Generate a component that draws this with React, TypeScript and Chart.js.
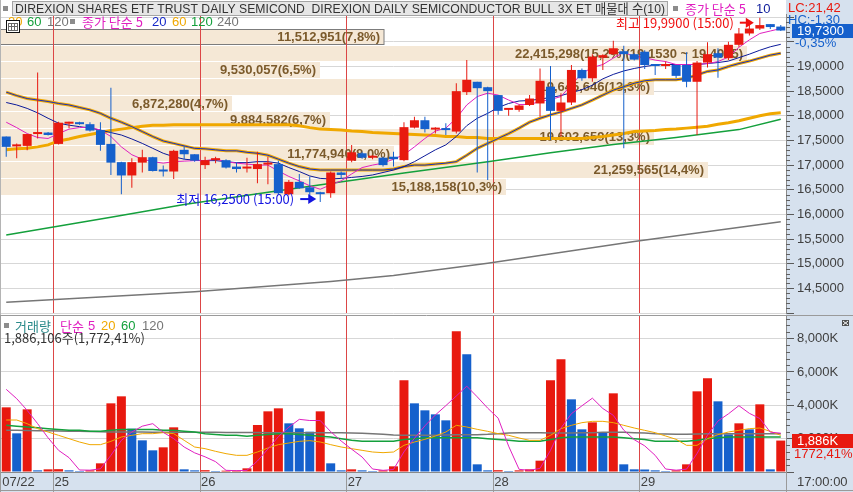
import React, { useEffect, useRef } from "react";
import { Chart, registerables } from "chart.js";

Chart.register(...registerables);

// ---------------- data ----------------
const days = ["07/22", "07/25", "07/26", "07/27", "07/28", "07/29"];
const dayTickLabels = ["07/22", "25", "26", "27", "28", "29"];
const barsPerDay = [5, 14, 14, 14, 14, 14];

const opens = [
  17.58, 17.38, 17.39, 17.63, 17.66, 17.43, 17.84, 17.87, 17.83, 17.71,
  17.43, 17.06, 16.79, 17.05, 17.16, 16.90, 16.87, 17.31, 17.22, 17.00,
  17.10, 17.10, 16.97, 16.93, 16.92, 17.01, 17.02, 16.41, 16.66, 16.55,
  16.45, 16.43, 16.85, 17.09, 17.24, 17.15, 17.15, 17.17, 17.10, 17.76,
  17.91, 17.72, 17.73, 17.68, 18.48, 18.69, 18.58, 18.42, 18.12, 18.12,
  18.22, 18.25, 18.59, 18.10, 18.27, 18.93, 18.76, 19.18, 19.25, 19.31,
  19.25, 19.30, 19.03, 19.01, 19.03, 19.03, 18.69, 19.08, 19.27, 19.17,
  19.44, 19.67, 19.77, 19.86, 19.81,
];
const highs = [
  17.58, 17.44, 17.63, 18.88, 17.67, 17.88, 17.88, 17.88, 17.87, 17.87,
  18.57, 17.07, 17.14, 17.31, 17.17, 16.99, 17.31, 17.39, 17.22, 17.17,
  17.17, 17.12, 17.06, 17.15, 17.27, 17.17, 17.09, 16.70, 16.82, 16.77,
  16.46, 16.87, 16.87, 17.41, 17.27, 17.20, 17.17, 17.27, 17.87, 17.98,
  17.98, 17.77, 17.85, 18.66, 19.13, 18.69, 18.59, 18.42, 18.15, 18.23,
  18.42, 18.96, 19.01, 18.46, 19.03, 18.96, 19.25, 19.25, 19.52, 19.42,
  19.27, 19.33, 19.04, 19.10, 19.03, 19.29, 19.11, 19.49, 19.37, 19.50,
  19.78, 19.84, 19.99, 19.86, 19.84,
];
const lows = [
  17.17, 17.14, 17.30, 17.54, 17.60, 17.42, 17.75, 17.82, 17.68, 17.29,
  16.80, 16.41, 16.54, 16.85, 16.87, 16.77, 16.72, 17.12, 17.07, 16.92,
  17.04, 16.93, 16.85, 16.85, 16.63, 16.61, 16.41, 16.39, 16.52, 16.39,
  16.25, 16.34, 16.72, 17.06, 17.13, 17.12, 16.97, 16.97, 17.08, 17.74,
  17.66, 17.64, 17.61, 17.64, 18.42, 16.85, 16.70, 18.02, 18.00, 18.08,
  18.20, 17.98, 17.51, 17.58, 18.22, 18.71, 18.69, 18.93, 19.23, 17.34,
  19.12, 18.95, 18.83, 18.95, 18.76, 18.58, 17.61, 18.98, 18.77, 19.13,
  19.40, 19.63, 19.74, 19.76, 19.72,
];
const closes = [
  17.37, 17.40, 17.63, 17.64, 17.61, 17.86, 17.85, 17.83, 17.70, 17.41,
  17.05, 16.79, 17.06, 17.16, 16.88, 16.87, 17.29, 17.22, 17.09, 17.10,
  17.11, 16.95, 16.92, 16.95, 17.02, 17.02, 16.43, 16.66, 16.53, 16.45,
  16.41, 16.85, 16.80, 17.26, 17.15, 17.17, 17.00, 17.12, 17.77, 17.91,
  17.73, 17.73, 17.71, 18.50, 18.73, 18.56, 18.50, 18.10, 18.14, 18.21,
  18.35, 18.71, 18.10, 18.27, 18.93, 18.76, 19.20, 19.23, 19.37, 19.25,
  19.14, 19.03, 19.01, 19.03, 18.81, 18.69, 19.08, 19.25, 19.18, 19.44,
  19.67, 19.77, 19.84, 19.80, 19.73,
];

// price moving averages (종가 단순)
const ma5 = [
  17.87, 17.76, 17.64, 17.56, 17.54, 17.64, 17.73, 17.76, 17.77, 17.71,
  17.58, 17.37, 17.21, 17.12, 17.07, 17.04, 17.07, 17.08, 17.09, 17.09,
  17.12, 17.07, 17.04, 17.02, 17.00, 17.00, 16.88, 16.77, 16.68, 16.58,
  16.51, 16.60, 16.68, 16.82, 16.95, 17.00, 17.04, 17.12, 17.21, 17.37,
  17.54, 17.69, 17.75, 17.95, 18.22, 18.39, 18.46, 18.42, 18.32, 18.23,
  18.23, 18.29, 18.33, 18.39, 18.63, 18.86, 18.98, 19.04, 19.17, 19.29,
  19.20, 19.18, 19.13, 19.10, 19.04, 19.04, 19.04, 19.06, 19.10, 19.19,
  19.39, 19.54, 19.67, 19.72, 19.77,
];
const ma10 = [
  18.27, 18.22, 18.15, 18.06, 17.95, 17.85, 17.81, 17.78, 17.75, 17.71,
  17.66, 17.61, 17.53, 17.44, 17.34, 17.24, 17.17, 17.12, 17.10, 17.09,
  17.09, 17.07, 17.05, 17.05, 17.07, 17.07, 17.04, 16.95, 16.87, 16.78,
  16.73, 16.72, 16.73, 16.75, 16.77, 16.80, 16.85, 16.90, 16.97, 17.07,
  17.19, 17.31, 17.41, 17.58, 17.80, 17.95, 18.05, 18.17, 18.25, 18.30,
  18.31, 18.34, 18.37, 18.41, 18.47, 18.53, 18.62, 18.75, 18.84, 18.91,
  18.96, 19.00, 19.03, 19.04, 19.04, 19.04, 19.04, 19.06, 19.08, 19.11,
  19.18, 19.25, 19.33, 19.40, 19.45,
];
const ma20 = [
  18.48, 18.41, 18.35, 18.32, 18.29, 18.25, 18.22, 18.17, 18.12, 18.05,
  17.95, 17.87, 17.78, 17.68, 17.58, 17.49, 17.44, 17.39, 17.34, 17.33,
  17.31, 17.29, 17.29, 17.26, 17.24, 17.20, 17.12, 17.04, 16.97, 16.92,
  16.90, 16.90, 16.90, 16.90, 16.90, 16.90, 16.90, 16.92, 16.97, 17.00,
  17.00, 17.02, 17.04, 17.07, 17.20, 17.34, 17.44, 17.54, 17.64, 17.75,
  17.87, 17.95, 18.02, 18.08, 18.15, 18.22, 18.32, 18.42, 18.52, 18.59,
  18.66, 18.71, 18.73, 18.73, 18.73, 18.76, 18.83, 18.90, 18.93, 19.00,
  19.06, 19.11, 19.17, 19.23, 19.27,
];
const ma60 = [
  17.31, 17.33, 17.34, 17.37, 17.41, 17.49, 17.53, 17.58, 17.62, 17.66,
  17.70, 17.73, 17.76, 17.79, 17.81, 17.81, 17.82, 17.82, 17.82, 17.82,
  17.82, 17.82, 17.82, 17.82, 17.82, 17.82, 17.82, 17.82, 17.80, 17.76,
  17.73, 17.72, 17.71, 17.69, 17.68, 17.66, 17.65, 17.64, 17.63, 17.62,
  17.61, 17.60, 17.58, 17.58, 17.56, 17.56, 17.54, 17.54, 17.54, 17.54,
  17.54, 17.54, 17.54, 17.54, 17.54, 17.54, 17.56, 17.58, 17.61, 17.64,
  17.68, 17.69, 17.70, 17.72, 17.73, 17.75, 17.77, 17.79, 17.83, 17.86,
  17.90, 17.95, 18.00, 18.04, 18.06,
];
// slow averages read at a few bars only: [bar index, value]
const ma120Points = [
  [0, 15.58], [10, 15.94], [17, 16.2], [26, 16.48], [38, 16.84], [46, 17.07],
  [52, 17.25], [58, 17.42], [64, 17.56], [70, 17.72], [74, 17.93],
];
const ma240Points = [
  [0, 14.22], [18, 14.43], [31, 14.64], [37, 14.76], [46, 15.01], [60, 15.45], [74, 15.85],
];

// volume (thousand shares)
const volumes = [
  3880, 2320, 3760, 100, 160, 170, 100, 60, 100, 520,
  4120, 4540, 2600, 1900, 1300, 1480, 2680, 160, 100, 110,
  40, 80, 90, 220, 2820, 3640, 3820, 2920, 2620, 2420,
  3640, 520, 100, 160, 100, 40, 100, 340, 5500, 4120,
  3700, 3460, 3100, 8440, 7060, 460, 100, 110, 40, 100,
  160, 680, 5500, 6760, 4360, 2560, 2980, 2380, 4720, 460,
  160, 150, 100, 40, 100, 460, 4840, 5620, 4240, 2260,
  2920, 2560, 4060, 160, 1886,
];
const volMa5 = [
  4960, 4400, 3700, 2900, 2050, 1300, 860, 120, 110, 190,
  1000, 1900, 2400, 2750, 2900, 2380, 2000, 1500, 1150, 910,
  620, 100, 80, 100, 660, 1380, 2120, 2690, 3160, 3090,
  3090, 2420, 1860, 1370, 900, 180, 100, 150, 1210, 2020,
  2770, 3420, 3980, 4560, 5150, 4510, 3830, 3230, 1550, 160,
  100, 220, 1300, 2640, 3500, 3970, 4430, 3810, 3400, 2510,
  1940, 1570, 1000, 180, 110, 170, 1110, 2210, 3060, 3490,
  3980, 3520, 3210, 2390, 2330,
];
const volMa20 = [
  3120, 3120, 2900, 2600, 2400, 2200, 2000, 1800, 1640, 1640,
  1840, 2100, 2200, 2300, 2300, 2360, 2300, 1900, 1500, 1400,
  1240, 1100, 1000, 1000, 1200, 1440, 1640, 1740, 1840, 1880,
  1800, 1640, 1500, 1400, 1300, 1200, 1160, 1200, 1600, 1800,
  1960, 2160, 2400, 2800, 2700, 2560, 2440, 2300, 2200, 2040,
  1900, 1900, 2200, 2600, 2800, 2960, 3040, 3040, 2960, 2800,
  2640, 2500, 2360, 2160, 1960, 1600, 1600, 2000, 2240, 2400,
  2500, 2600, 2640, 2440, 2200,
];
const volMa60 = [
  2800, 2750, 2700, 2650, 2600, 2550, 2500, 2500, 2450, 2450,
  2500, 2550, 2550, 2550, 2550, 2500, 2500, 2450, 2400, 2300,
  2250, 2200, 2200, 2150, 2200, 2250, 2300, 2300, 2250, 2200,
  2150, 2100, 2000, 1900, 1850, 1850, 1850, 1850, 1950, 2000,
  2050, 2050, 2050, 2050, 2050, 2050, 2000, 1950, 1900, 1850,
  1850, 1850, 1950, 2050, 2100, 2100, 2100, 2100, 2100, 2050,
  2000, 1950, 1850, 1850, 1850, 1850, 1900, 2000, 2050, 2100,
  2100, 2100, 2100, 2100, 2100,
];
const volMa120 = [
  2500, 2500, 2490, 2480, 2470, 2460, 2450, 2440, 2430, 2420,
  2400, 2400, 2400, 2400, 2390, 2390, 2390, 2380, 2380, 2380,
  2380, 2370, 2370, 2370, 2370, 2360, 2360, 2360, 2360, 2360,
  2360, 2360, 2350, 2340, 2320, 2300, 2260, 2220, 2200, 2200,
  2200, 2210, 2220, 2230, 2240, 2240, 2260, 2300, 2340, 2360,
  2360, 2350, 2340, 2340, 2340, 2350, 2360, 2380, 2390, 2380,
  2360, 2340, 2300, 2280, 2260, 2260, 2280, 2300, 2300, 2300,
  2300, 2300, 2300, 2300, 2300,
];
const volumeTickValues = [0, 2000, 4000, 6000, 8000];

// volume-at-price (매물대) bands, top to bottom
const bandEdges = [19.76, 19.422, 19.084, 18.746, 18.408, 18.07, 17.732, 17.394, 17.056, 16.718, 16.38];
const bandVolumes = [11512951, 22415298, 9530057, 19645646, 6872280, 9884582, 19602659, 11774940, 21259565, 15188158];
const bandPercents = [7.8, 15.2, 6.5, 13.3, 4.7, 6.7, 13.3, 8.0, 14.4, 10.3];
const peakBandRange = [19.153, 19.4965];
const bandPercentScaleMax = 16;

const titleParts = ["DIREXION SHARES ETF TRUST DAILY SEMICOND", "DIREXION DAILY SEMICONDUCTOR BULL 3X ET"];
const lcValue = 21.42;
const hcValue = -1.3;
const changePct = -0.35;
const extremeTime = "15:00";
const currentVolumeShares = 1886106;
const volumeRatioPct = 1772.41;
const lastTimeLabel = "17:00:00";

// ---------------- derived tables ----------------
const categories: string[] = [];
days.forEach((d, k) => {
  for (let j = 0; j < barsPerDay[k]; j++) categories.push(`${d} #${j + 1}`);
});
const dayStarts: number[] = [];
{
  let s = 0;
  barsPerDay.forEach((n) => {
    dayStarts.push(s);
    s += n;
  });
}
const sparse = (pts: number[][]) => {
  const a: (number | null)[] = new Array(categories.length).fill(null);
  pts.forEach(([i, v]) => (a[i] = v));
  return a;
};

// ---------------- style ----------------
const RED = "#e8190f";
const BLUE = "#1560cc";
const PANEL = "#d6e1ee";
const GRID = "#d7d7d7";
const DAYLINE = "#dc4646";
const AXIS_TEXT = "#404040";
const BAND = "#f5e8d6";
const BAND_TEXT = "#7b5a2b";
const MAGENTA = "#e020c0";
const NAVY = "#0c1a9a";
const ORANGE = "#f0a800";
const CORE = "#1830c0";
const GREEN = "#14a03c";
const GRAY = "#767676";
const TEAL = "#2a8a8a";
const FAM = "'Liberation Sans', 'Noto Sans CJK KR', sans-serif";
const KFAM = "'Noto Sans CJK KR', 'Liberation Sans', sans-serif";

const fmtInt = (n: number) => Math.round(n).toLocaleString("en-US");
const fmtDec = (n: number, d: number) => n.toFixed(d).replace(".", ",");
const fmtLocDec = (n: number, d: number) =>
  n.toLocaleString("en-US", { minimumFractionDigits: d, maximumFractionDigits: d }).replace(/\.(\d+)$/, ",$1");

function txt(ctx: any, s: string, x: number, y: number, color: string, font: string, align = "left", maxW?: number) {
  ctx.font = font;
  ctx.fillStyle = color;
  ctx.textAlign = align;
  ctx.textBaseline = "middle";
  if (maxW) ctx.fillText(s, x, y, maxW);
  else ctx.fillText(s, x, y);
}

function arrow(ctx: any, tipX: number, yy: number, len: number, color: string) {
  ctx.strokeStyle = color;
  ctx.fillStyle = color;
  ctx.lineWidth = 2;
  ctx.beginPath();
  ctx.moveTo(tipX - len, yy);
  ctx.lineTo(tipX - 5, yy);
  ctx.stroke();
  ctx.beginPath();
  ctx.moveTo(tipX, yy);
  ctx.lineTo(tipX - 8, yy - 5);
  ctx.lineTo(tipX - 8, yy + 5);
  ctx.closePath();
  ctx.fill();
}

function dayLineXs(x: any) {
  return dayStarts.slice(1).map((s) => Math.round((x.getPixelForValue(s - 1) + x.getPixelForValue(s)) / 2) + 0.5);
}

const lineDs = (data: any[], color: string, width: number, order: number) => ({
  type: "line",
  data,
  borderColor: color,
  borderWidth: width,
  pointRadius: 0,
  pointHoverRadius: 0,
  fill: false,
  tension: 0,
  spanGaps: true,
  order,
});

// ---------------- price pane ----------------
function priceConfig(): any {
  const candleColors = opens.map((o, i) => (closes[i] >= o ? RED : BLUE));
  const plugin = {
    id: "pricePane",
    beforeDraw(chart: any) {
      const { ctx, chartArea: ca, width, height } = chart;
      ctx.save();
      ctx.fillStyle = "#ffffff";
      ctx.fillRect(0, 0, width, height);
      ctx.fillStyle = PANEL;
      ctx.fillRect(ca.right, 0, width - ca.right, height);
      ctx.restore();
    },
    beforeDatasetsDraw(chart: any) {
      const { ctx, chartArea: ca, scales } = chart;
      const { x, y } = scales;
      ctx.save();
      const rects: any[] = [];
      bandEdges.slice(0, -1).forEach((top, k) => {
        const yt = Math.round(y.getPixelForValue(top));
        const yb = Math.round(y.getPixelForValue(bandEdges[k + 1]));
        const xr = ca.left + (bandPercents[k] / bandPercentScaleMax) * (ca.right - ca.left);
        ctx.fillStyle = BAND;
        ctx.fillRect(0, yt, Math.round(xr), yb - yt - 1);
        rects.push({ yt, yb, xr: Math.round(xr) });
      });
      // outline the band that holds the last price
      const last = closes[closes.length - 1];
      bandEdges.slice(0, -1).forEach((top, k) => {
        if (last <= top && last > bandEdges[k + 1]) {
          const r = rects[k];
          ctx.strokeStyle = "#7c7c7c";
          ctx.lineWidth = 1;
          ctx.strokeRect(0.5, r.yt + 0.5, r.xr - 0.5, r.yb - r.yt - 2);
        }
      });
      // day separators
      ctx.strokeStyle = DAYLINE;
      ctx.lineWidth = 1;
      dayLineXs(x).forEach((px) => {
        ctx.beginPath();
        ctx.moveTo(px, ca.top);
        ctx.lineTo(px, ca.bottom);
        ctx.stroke();
      });
      // band labels
      const peak = bandVolumes.indexOf(Math.max(...bandVolumes));
      rects.forEach((r, k) => {
        let s = `${fmtInt(bandVolumes[k])}(${fmtDec(bandPercents[k], 1)}%)`;
        if (k === peak) s += `(${fmtDec(peakBandRange[0], 4)} ~ ${fmtDec(peakBandRange[1], 4)})`;
        txt(ctx, s, r.xr - 4, (r.yt + r.yb) / 2, BAND_TEXT, `bold 13px ${FAM}`, "right");
      });
      ctx.restore();
    },
    afterDraw(chart: any) {
      const { ctx, chartArea: ca, scales, width } = chart;
      const { x, y } = scales;
      ctx.save();
      // minor ticks on the price axis
      ctx.strokeStyle = "#606060";
      ctx.lineWidth = 1;
      for (let k = 141; k <= 200; k++) {
        if (k % 5 === 0) continue;
        const py = Math.round(y.getPixelForValue(k / 10)) + 0.5;
        ctx.beginPath();
        ctx.moveTo(ca.right, py);
        ctx.lineTo(ca.right + 4, py);
        ctx.stroke();
      }
      // left frame
      ctx.strokeStyle = "#b4b4b4";
      ctx.beginPath();
      ctx.moveTo(0.5, 0);
      ctx.lineTo(0.5, chart.height);
      ctx.stroke();

      // lowest / highest marks
      let iLo = 0;
      let iHi = 0;
      lows.forEach((v, i) => { if (v < lows[iLo]) iLo = i; });
      highs.forEach((v, i) => { if (v > highs[iHi]) iHi = i; });
      const loTip = x.getPixelForValue(iLo) - 4;
      const loY = y.getPixelForValue(lows[iLo]) - 3;
      arrow(ctx, loTip, loY, 16, "#1414e0");
      txt(ctx, `최저 ${fmtDec(lows[iLo], 4)} (${extremeTime})`, loTip - 22, loY, "#1414e0", `13px ${KFAM}`, "right");
      const hiTip = x.getPixelForValue(iHi) - 6;
      const hiY = y.getPixelForValue(highs[iHi]) + 5;
      arrow(ctx, hiTip, hiY, 14, "#f01010");
      txt(ctx, `최고 ${fmtDec(highs[iHi], 4)} (${extremeTime})`, hiTip - 20, hiY, "#f01010", `13px ${KFAM}`, "right");

      // title bar
      ctx.fillStyle = "#e6e6e6";
      ctx.fillRect(12, 1, 656, 15);
      ctx.strokeStyle = "#a4a4a4";
      ctx.lineWidth = 1;
      ctx.strokeRect(12.5, 1.5, 655, 14);
      ctx.fillStyle = "#8c8c8c";
      ctx.fillRect(3, 6, 5, 5);
      txt(ctx, `${titleParts[0]}  ${titleParts[1]} 매물대 수(${bandVolumes.length})`, 15, 9, "#333333", `13px ${FAM}`, "left", 650);
      ctx.fillStyle = "#8c8c8c";
      ctx.fillRect(673, 6, 5, 5);
      txt(ctx, "종가 단순 5", 685, 9, MAGENTA, `13px ${KFAM}`, "left", 62);
      txt(ctx, "10", 756, 9, NAVY, `13px ${FAM}`);

      // second legend line
      const ly = 22;
      txt(ctx, "20", 8, ly, ORANGE, `13px ${FAM}`);
      txt(ctx, "60", 27, ly, GREEN, `13px ${FAM}`);
      txt(ctx, "120", 47, ly, GRAY, `13px ${FAM}`);
      ctx.fillStyle = "#8c8c8c";
      ctx.fillRect(70, 19, 5, 5);
      txt(ctx, "종가 단순 5", 82, ly, MAGENTA, `13px ${KFAM}`, "left", 62);
      txt(ctx, "20", 152, ly, "#1428c8", `13px ${FAM}`);
      txt(ctx, "60", 172, ly, ORANGE, `13px ${FAM}`);
      txt(ctx, "120", 191, ly, GREEN, `13px ${FAM}`);
      txt(ctx, "240", 217, ly, GRAY, `13px ${FAM}`);

      // table icon
      ctx.fillStyle = "#ffffff";
      ctx.fillRect(6, 20, 14, 13);
      ctx.strokeStyle = "#111111";
      ctx.strokeRect(6.5, 20.5, 13, 12);
      ctx.strokeStyle = "#666666";
      ctx.strokeRect(8.5, 23.5, 9, 7);
      ctx.beginPath();
      ctx.moveTo(8.5, 26.5); ctx.lineTo(17.5, 26.5);
      ctx.moveTo(11.5, 23.5); ctx.lineTo(11.5, 30.5);
      ctx.moveTo(14.5, 23.5); ctx.lineTo(14.5, 30.5);
      ctx.stroke();

      // right-top info and last price box
      txt(ctx, `LC:${fmtDec(lcValue, 2)}`, ca.right + 2, 8, RED, `13px ${FAM}`);
      txt(ctx, `HC:${fmtDec(hcValue, 2)}`, ca.right + 2, 20, BLUE, `13px ${FAM}`);
      const lastClose = closes[closes.length - 1];
      const py = Math.round(y.getPixelForValue(lastClose));
      ctx.fillStyle = BLUE;
      ctx.fillRect(ca.right + 6, py - 7, width - ca.right - 6, 14);
      txt(ctx, fmtDec(lastClose, 4), ca.right + 11, py + 0.5, "#ffffff", `13px ${FAM}`);
      txt(ctx, `${fmtDec(changePct, 2)}%`, ca.right + 9, py + 12, BLUE, `13px ${FAM}`);
      ctx.restore();
    },
  };

  return {
    type: "bar",
    data: {
      labels: categories,
      datasets: [
        lineDs(sparse(ma240Points), GRAY, 1.5, 20),
        lineDs(sparse(ma120Points), GREEN, 1.5, 19),
        lineDs(ma60, ORANGE, 3, 18),
        lineDs(ma20, ORANGE, 3, 17),
        lineDs(ma20, CORE, 1, 16),
        lineDs(ma10, NAVY, 1, 15),
        lineDs(ma5, MAGENTA, 1, 14),
        {
          type: "bar",
          data: lows.map((l, i) => [l, highs[i]]),
          backgroundColor: candleColors,
          barThickness: 1,
          grouped: false,
          borderWidth: 0,
          inflateAmount: 0,
          minBarLength: 1,
          order: 2,
        },
        {
          type: "bar",
          data: opens.map((o, i) => [o, closes[i]]),
          backgroundColor: candleColors,
          barThickness: 9,
          grouped: false,
          borderWidth: 0,
          inflateAmount: 0,
          minBarLength: 2,
          order: 1,
        },
      ],
    },
    options: {
      animation: false,
      responsive: false,
      devicePixelRatio: 1,
      events: [],
      layout: { padding: { left: 1, top: 14, right: 0, bottom: 2 } },
      plugins: { legend: { display: false }, tooltip: { enabled: false } },
      scales: {
        x: { type: "category", display: false, offset: true },
        y: {
          position: "right",
          min: 14,
          max: 20.065,
          afterFit: (s: any) => {
            s.width = 67;
            s.paddingTop = 0;
            s.paddingBottom = 0;
          },
          ticks: {
            stepSize: 0.5,
            includeBounds: false,
            padding: 3,
            color: AXIS_TEXT,
            font: { family: FAM, size: 13 },
            callback: (v: any) => {
              const n = Number(v);
              if (n < 14.25 || n > 19.25) return "";
              return fmtDec(n, 4);
            },
          },
          grid: { color: GRID, tickColor: "#5a5a5a", tickLength: 8, drawTicks: true },
          border: { display: true, color: "#8a8a8a" },
        },
      },
    },
    plugins: [plugin],
  };
}

// ---------------- volume pane ----------------
function volumeConfig(): any {
  const volColors = volumes.map((v, i) => (i === 0 || v >= volumes[i - 1] ? RED : BLUE));
  const plugin = {
    id: "volumePane",
    beforeDraw(chart: any) {
      const { ctx, chartArea: ca, width, height } = chart;
      ctx.save();
      ctx.fillStyle = "#ffffff";
      ctx.fillRect(0, 0, width, height);
      ctx.fillStyle = PANEL;
      ctx.fillRect(ca.right, 0, width - ca.right, height);
      ctx.fillRect(0, ca.bottom, width, height - ca.bottom);
      ctx.restore();
    },
    beforeDatasetsDraw(chart: any) {
      const { ctx, chartArea: ca, scales, width, height } = chart;
      const { x } = scales;
      ctx.save();
      ctx.lineWidth = 1;
      const xs = dayLineXs(x);
      ctx.strokeStyle = DAYLINE;
      xs.forEach((px) => {
        ctx.beginPath();
        ctx.moveTo(px, ca.top);
        ctx.lineTo(px, ca.bottom);
        ctx.stroke();
      });
      ctx.strokeStyle = "#9a9a9a";
      [...xs, Math.round(ca.right) + 0.5].forEach((px) => {
        ctx.beginPath();
        ctx.moveTo(px, ca.bottom);
        ctx.lineTo(px, height);
        ctx.stroke();
      });
      ctx.beginPath();
      ctx.moveTo(0, ca.top - 0.5);
      ctx.lineTo(width, ca.top - 0.5);
      ctx.moveTo(0, height - 1.5);
      ctx.lineTo(width, height - 1.5);
      ctx.moveTo(0.5, 0);
      ctx.lineTo(0.5, height);
      ctx.stroke();
      ctx.restore();
    },
    afterDraw(chart: any) {
      const { ctx, chartArea: ca, scales, width } = chart;
      const { y } = scales;
      ctx.save();
      // minor ticks
      ctx.strokeStyle = "#606060";
      ctx.lineWidth = 1;
      for (let k = 1; k <= 23; k++) {
        if (k % 5 === 0) continue;
        const py = Math.round(y.getPixelForValue(k * 400)) + 0.5;
        ctx.beginPath();
        ctx.moveTo(ca.right, py);
        ctx.lineTo(ca.right + 4, py);
        ctx.stroke();
      }
      // legend
      const l1 = ca.top + 10;
      ctx.fillStyle = "#8c8c8c";
      ctx.fillRect(4, l1 - 3, 5, 5);
      txt(ctx, "거래량", 15, l1, TEAL, `13px ${KFAM}`);
      txt(ctx, "단순", 60, l1, MAGENTA, `13px ${KFAM}`);
      txt(ctx, "5", 88, l1, MAGENTA, `13px ${FAM}`);
      txt(ctx, "20", 101, l1, ORANGE, `13px ${FAM}`);
      txt(ctx, "60", 121, l1, GREEN, `13px ${FAM}`);
      txt(ctx, "120", 142, l1, GRAY, `13px ${FAM}`);
      txt(ctx, `${fmtInt(currentVolumeShares)}주(${fmtLocDec(volumeRatioPct, 2)}%)`, 4, ca.top + 22, "#333333", `13px ${KFAM}`);
      // current volume box
      const vy = Math.round(y.getPixelForValue(volumes[volumes.length - 1]));
      ctx.fillStyle = RED;
      ctx.fillRect(ca.right + 6, vy - 7, width - ca.right - 6, 14);
      txt(ctx, `${fmtInt(currentVolumeShares / 1000)}K`, ca.right + 11, vy + 0.5, "#ffffff", `13px ${FAM}`);
      txt(ctx, `${fmtDec(volumeRatioPct, 2)}%`, ca.right + 8, vy + 13, RED, `13px ${FAM}`);
      // time label
      txt(ctx, lastTimeLabel, ca.right + 11, ca.bottom + 10, AXIS_TEXT, `13px ${FAM}`);
      // small corner icon
      ctx.fillStyle = "#505050";
      ctx.fillRect(width - 11, ca.top + 4, 7, 6);
      ctx.strokeStyle = "#ffffff";
      ctx.beginPath();
      ctx.moveTo(width - 10, ca.top + 5);
      ctx.lineTo(width - 5, ca.top + 9);
      ctx.moveTo(width - 5, ca.top + 5);
      ctx.lineTo(width - 10, ca.top + 9);
      ctx.stroke();
      ctx.restore();
    },
  };

  return {
    type: "bar",
    data: {
      labels: categories,
      datasets: [
        {
          type: "bar",
          data: volumes,
          backgroundColor: volColors,
          barThickness: 9,
          borderWidth: 0,
          inflateAmount: 0,
          minBarLength: 1,
          order: 10,
        },
        lineDs(volMa120, GRAY, 1.5, 4),
        lineDs(volMa60, GREEN, 1.5, 3),
        lineDs(volMa20, ORANGE, 1, 2),
        lineDs(volMa5, MAGENTA, 1, 1),
      ],
    },
    options: {
      animation: false,
      responsive: false,
      devicePixelRatio: 1,
      events: [],
      layout: { padding: { left: 1, top: 1, right: 0, bottom: 0 } },
      plugins: { legend: { display: false }, tooltip: { enabled: false } },
      scales: {
        x: {
          type: "category",
          offset: true,
          afterFit: (s: any) => {
            s.height = 20;
            s.paddingLeft = 0;
            s.paddingRight = 0;
          },
          grid: { display: false, drawTicks: false },
          border: { display: true, color: "#8a8a8a" },
          ticks: {
            autoSkip: false,
            maxRotation: 0,
            minRotation: 0,
            align: "start",
            labelOffset: -4,
            padding: 3,
            color: AXIS_TEXT,
            font: { family: FAM, size: 13 },
            callback: (_v: any, idx: number) => {
              const d = dayStarts.indexOf(idx);
              return d >= 0 ? dayTickLabels[d] : "";
            },
          },
        },
        y: {
          position: "right",
          min: 0,
          max: 9360,
          afterBuildTicks: (s: any) => {
            s.ticks = volumeTickValues.map((v) => ({ value: v }));
          },
          afterFit: (s: any) => {
            s.width = 67;
            s.paddingTop = 0;
            s.paddingBottom = 0;
          },
          ticks: {
            padding: 3,
            color: AXIS_TEXT,
            font: { family: FAM, size: 13 },
            callback: (v: any) => (Number(v) <= 0 ? "" : `${fmtInt(Number(v))}K`),
          },
          grid: { color: GRID, tickColor: "#5a5a5a", tickLength: 8, drawTicks: true },
          border: { display: true, color: "#8a8a8a" },
        },
      },
    },
    plugins: [plugin],
  };
}

export default function App() {
  const priceRef = useRef<HTMLCanvasElement>(null);
  const volRef = useRef<HTMLCanvasElement>(null);

  useEffect(() => {
    document.body.style.margin = "0";
    const c1 = new Chart(priceRef.current as HTMLCanvasElement, priceConfig());
    const c2 = new Chart(volRef.current as HTMLCanvasElement, volumeConfig());
    return () => {
      c1.destroy();
      c2.destroy();
    };
  }, []);

  return (
    <div style={{ position: "relative", width: 853, height: 492, background: "#ffffff", overflow: "hidden" }}>
      <canvas
        ref={priceRef}
        width={853}
        height={315}
        style={{ position: "absolute", left: 0, top: 0, width: 853, height: 315 }}
      />
      <canvas
        ref={volRef}
        width={853}
        height={177}
        style={{ position: "absolute", left: 0, top: 315, width: 853, height: 177 }}
      />
    </div>
  );
}
